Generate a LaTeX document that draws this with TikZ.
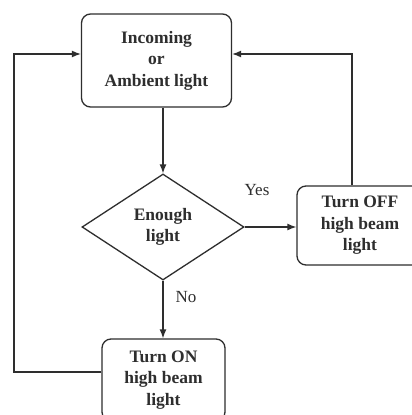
\documentclass[tikz,border=0pt]{standalone}
\usepackage{fontspec}
\setmainfont{Liberation Serif}
\usetikzlibrary{shapes.geometric,arrows.meta,calc}
\definecolor{ink}{HTML}{2E2E2E}
\begin{document}
\begin{tikzpicture}[x=1pt,y=-1pt,
  every node/.style={text=ink},
  box/.style={draw=ink, line width=1.3pt, rounded corners=9pt, align=center, inner sep=0pt,
     font=\fontsize{17.5}{21.5}\selectfont\bfseries},
  dec/.style={draw=ink, line width=1.3pt, diamond, aspect=1.5, inner sep=0pt, align=center,
     minimum width=162pt, minimum height=106pt, font=\fontsize{17.5}{21.5}\selectfont\bfseries},
  lbl/.style={font=\fontsize{17}{20}\selectfont},
  conn/.style={draw=ink, line width=1.3pt, -{Latex[length=9pt,width=7pt]}}
]
\useasboundingbox[fill=white] (0,0) rectangle (412,415);
\begin{scope}
\clip (0,0) rectangle (412,415);
\node[box, minimum width=150pt, minimum height=93pt] (top) at (156.5,60.5) {Incoming\\or\\Ambient light};
\node[dec] (dia) at (163,227) {Enough\\light};
\node[box, minimum width=126pt, minimum height=79pt] (right) at (360,225.5) {Turn OFF\\high beam\\light};
\node[box, minimum width=123pt, minimum height=82pt] (bot) at (163.5,380) {Turn ON\\high beam\\light};
\coordinate (rc) at (352,54);
\coordinate (lc) at (14,54);
\coordinate (lb) at (14,372);
\coordinate (tx) at (163,0);
\draw[conn] (top.south -| tx) -- (dia.north);
\draw[conn] (dia.east) -- (dia.east -| right.west);
\draw[conn] (dia.south) -- (dia.south |- bot.north);
\draw[conn] (right.north -| rc) -- (rc) -- (rc -| top.east);
\draw[conn] (lb -| bot.west) -- (lb) -- (lc) -- (lc -| top.west);
\node[lbl] (yes) at (257,190) {Yes};
\node[lbl] (no) at (186,297) {No};
\end{scope}
\end{tikzpicture}
\end{document}
